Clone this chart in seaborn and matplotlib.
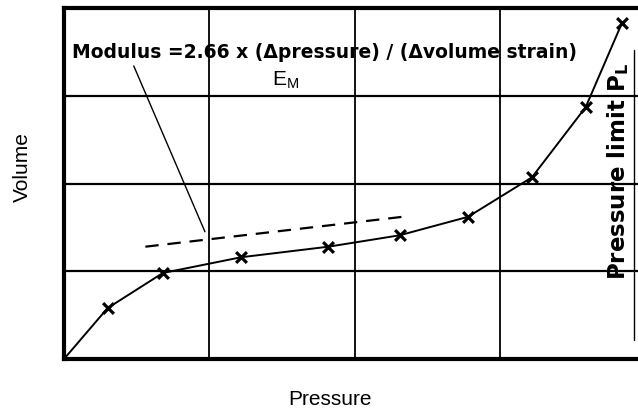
import matplotlib
matplotlib.use("Agg")
import matplotlib.pyplot as plt
import seaborn as sns
import pandas as pd

# --- data (grid units) ---
pressure = [0.0, 0.30, 0.68, 1.22, 1.82, 2.31, 2.78, 3.22, 3.59, 3.84]
volume = [0.0, 0.58, 0.98, 1.16, 1.28, 1.41, 1.62, 2.07, 2.87, 3.83]
measured = [False, True, True, True, True, True, True, True, True, True]

slope_x = [0.56, 2.38]
slope_y = [1.28, 1.63]

pointer_x = [0.48, 0.97]
pointer_y = [3.34, 1.45]

limit_x = 3.92
limit_y = [0.22, 3.52]
grid_steps = [1, 2, 3]

df = pd.DataFrame({"Pressure": pressure, "Volume": volume, "measured": measured})

sns.set_style("white")
plt.rcParams["font.family"] = ["Liberation Sans", "DejaVu Sans"]
plt.rcParams["text.color"] = "black"
plt.rcParams["axes.labelcolor"] = "black"

fig = plt.figure(figsize=(6.38, 4.12), dpi=100)
ax = fig.add_axes([0.1003, 0.1286, 0.8997, 0.852])

# curve + markers
sns.lineplot(data=df, x="Pressure", y="Volume", ax=ax, color="black", lw=1.4,
             sort=False, estimator=None)
sns.scatterplot(data=df[df["measured"]], x="Pressure", y="Volume", ax=ax,
                marker="x", color="black", s=60, linewidth=2.3, zorder=5)

# dashed slope line and pointer
ax.plot(slope_x, slope_y, color="black", lw=1.6, ls=(0, (6, 4)))
ax.plot(pointer_x, pointer_y, color="black", lw=1.0)

# grid
for g in grid_steps:
    ax.axvline(g, color="black", lw=1.3, zorder=1)
    ax.axhline(g, color="black", lw=1.6, zorder=1)

# pressure limit line
ax.plot([limit_x, limit_x], limit_y, color="black", lw=1.0)

ax.set_xlim(0, 3.95)
ax.set_ylim(0, 4)
ax.set_xticks([])
ax.set_yticks([])
for side in ["left", "bottom", "top"]:
    ax.spines[side].set_linewidth(3)
    ax.spines[side].set_color("black")
ax.spines["right"].set_visible(False)

ax.text(0.055, 3.43, "Modulus =2.66 x (\u0394pressure) / (\u0394volume strain)",
        fontsize=13.5, fontweight="bold", va="baseline", ha="left",
        family="DejaVu Sans")
ax.text(1.43, 3.12, "E$_\\mathregular{M}$", fontsize=15, va="baseline", ha="left")
ax.text(3.81, 2.14, "Pressure limit P$_\\mathregular{L}$", rotation=90,
        fontsize=16.5, fontweight="bold", va="center", ha="center",
        family="DejaVu Sans")

ax.set_xlabel("Pressure", fontsize=15)
ax.set_ylabel("Volume", fontsize=15)
ax.xaxis.set_label_coords(0.463, -0.088)
ax.yaxis.set_label_coords(-0.056, 0.547)

fig.savefig("out.png", dpi=100)
